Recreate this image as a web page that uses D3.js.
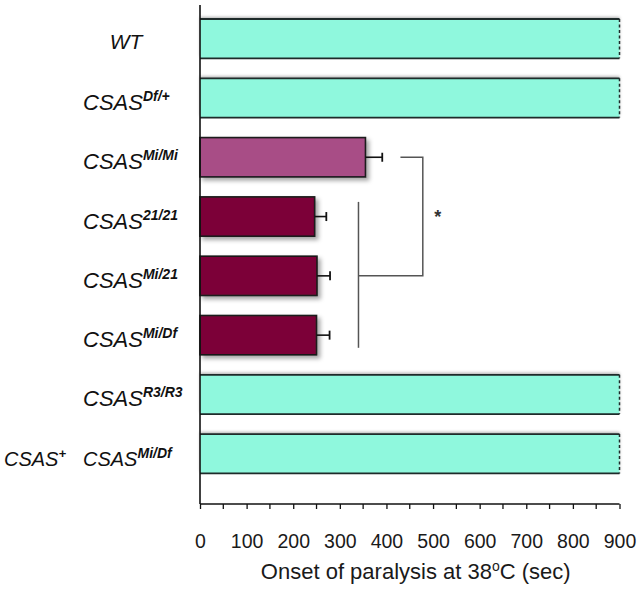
<!DOCTYPE html>
<html><head><meta charset="utf-8">
<script src="https://cdn.jsdelivr.net/npm/d3@7"></script>
<style>body{margin:0;background:#fff}svg{display:block}</style>
</head><body>
<svg id="c" width="640" height="592"></svg>
<script>
const genotypes = ["WT","CSAS Df/+","CSAS Mi/Mi","CSAS 21/21","CSAS Mi/21","CSAS Mi/Df","CSAS R3/R3","CSAS+ CSAS Mi/Df"];
const baseText = ["WT","CSAS","CSAS","CSAS","CSAS","CSAS","CSAS","CSAS"];
const supText  = ["","Df/+","Mi/Mi","21/21","Mi/21","Mi/Df","R3/R3","Mi/Df"];
const onset = [900,900,355,246,251,250,900,900];
const errors = [0,0,36,25,28,28,0,0];
const groups = ["full","full","mid","low","low","low","full","full"];
const xTicks = [0,100,200,300,400,500,600,700,800,900];
const minorTicks = [50,150,250,350,450,550,650,750,850];
const xTitle = ["Onset of paralysis at 38","o","C (sec)"];
// significance bracket (values in sec)
const bracket = {groupX: 340, joinX: 478, topStartX: 430, star: "*"};

const colors = {full:"#8ff8dd", mid:"#a84d86", low:"#7b0037"};
const FONT = "Liberation Sans, Arial, sans-serif";
const svg = d3.select("#c");
const x = d3.scaleLinear().domain([0,900]).range([200,619.5]);
const y = d3.scaleBand().domain(genotypes).range([9,483.4]).paddingInner(0.337).paddingOuter(0.1686);

const defs = svg.append("defs");
defs.append("filter").attr("id","sh").attr("x","-10%").attr("y","-30%").attr("width","130%").attr("height","170%")
  .append("feDropShadow").attr("dx",3).attr("dy",3).attr("stdDeviation",2).attr("flood-color","#000").attr("flood-opacity",0.35);
defs.append("filter").attr("id","shTop").attr("x","-10%").attr("y","-40%").attr("width","130%").attr("height","170%")
  .append("feDropShadow").attr("dx",0).attr("dy",-2).attr("stdDeviation",1.5).attr("flood-color","#000").attr("flood-opacity",0.3);

const data = genotypes.map((g,i)=>({g, v:onset[i], e:errors[i], grp:groups[i], base:baseText[i], sup:supText[i], i}));
const bw = y.bandwidth();

// bars
const bars = svg.append("g");
data.forEach(d=>{
  const y0 = y(d.g);
  if (d.grp === "full") {
    const gg = bars.append("g");
    gg.append("rect").attr("x",x(0)).attr("y",y0).attr("width",x(d.v)-x(0)).attr("height",bw)
      .attr("fill",colors.full).attr("filter","url(#shTop)");
    gg.append("line").attr("x1",x(0)).attr("x2",x(d.v)).attr("y1",y0).attr("y2",y0).attr("stroke","#1e2b2a").attr("stroke-width",1.8);
    gg.append("line").attr("x1",x(0)).attr("x2",x(d.v)).attr("y1",y0+bw).attr("y2",y0+bw).attr("stroke","#1e2b2a").attr("stroke-width",1.8);
    gg.append("line").attr("x1",x(d.v)).attr("x2",x(d.v)).attr("y1",y0).attr("y2",y0+bw).attr("stroke","#1e2b2a").attr("stroke-width",1.5).attr("stroke-dasharray","3,2.5");
  } else {
    bars.append("rect").attr("x",x(0)).attr("y",y0).attr("width",x(d.v)-x(0)).attr("height",bw)
      .attr("fill",colors[d.grp]).attr("stroke","#1a1a1a").attr("stroke-width",1.6).attr("filter","url(#sh)");
    const cy = y0 + bw/2;
    bars.append("line").attr("x1",x(d.v)).attr("x2",x(d.v+d.e)).attr("y1",cy).attr("y2",cy).attr("stroke","#111").attr("stroke-width",1.6);
    bars.append("line").attr("x1",x(d.v+d.e)).attr("x2",x(d.v+d.e)).attr("y1",cy-4.5).attr("y2",cy+4.5).attr("stroke","#111").attr("stroke-width",1.8);
  }
});

// axes
const axisY = 504;
svg.append("line").attr("x1",x(0)).attr("x2",x(0)).attr("y1",5).attr("y2",axisY).attr("stroke","#111").attr("stroke-width",1.6);
const xa = svg.append("g").attr("transform",`translate(0,${axisY})`)
  .call(d3.axisBottom(x).tickValues(xTicks).tickSize(5).tickPadding(25).tickFormat(d3.format("d")));
xa.select(".domain").attr("stroke","#111").attr("stroke-width",1.6).attr("d",`M${x(0)},0H${x(900)}`);
xa.selectAll(".tick line").attr("stroke","#111").attr("stroke-width",1.3);
xa.selectAll(".tick text").attr("font-family",FONT).attr("font-size",19.5).attr("fill","#1a1a1a");
xa.selectAll(".minor").data(minorTicks).enter().append("line").attr("class","minor")
  .attr("x1",d=>x(d)).attr("x2",d=>x(d)).attr("y1",0).attr("y2",5).attr("stroke","#111").attr("stroke-width",1.3);

// axis title
const t = svg.append("text").attr("x",(x(0)+x(900))/2+6).attr("y",579).attr("text-anchor","middle")
  .attr("font-family",FONT).attr("font-size",22).attr("fill","#1a1a1a");
t.append("tspan").text(xTitle[0]);
t.append("tspan").attr("font-size",14).attr("dy",-8).text(xTitle[1]);
t.append("tspan").attr("dy",8).text(xTitle[2]);

// labels
const lab = svg.append("g").attr("font-family",FONT).attr("font-style","italic").attr("fill","#111");
data.forEach(d=>{
  const cy = y(d.g) + bw/2;
  let tx;
  if (d.i === 0) {
    tx = lab.append("text").attr("x",126).attr("y",cy+10).attr("text-anchor","middle");
    tx.append("tspan").attr("font-size",21).text(d.base);
    return;
  }
  if (d.i === genotypes.length-1) {
    tx = lab.append("text").attr("x",4).attr("y",cy+12.5);
    tx.append("tspan").attr("font-size",20).text("CSAS");
    tx.append("tspan").attr("font-size",13).attr("font-weight","bold").attr("dy",-8).text("+");
    tx.append("tspan").attr("font-size",20).attr("x",83).attr("dy",8).text("CSAS");
    tx.append("tspan").attr("font-size",14).attr("font-weight","bold").attr("dy",-8.5).text(d.sup);
    return;
  }
  tx = lab.append("text").attr("x",83).attr("y",cy+12).attr("text-anchor","start");
  tx.append("tspan").attr("font-size",22).text(d.base);
  tx.append("tspan").attr("font-size",14).attr("font-weight","bold").attr("dy",-9).text(d.sup);
});

// significance bracket
const cyOf = g => y(g) + bw/2;
const br = svg.append("g").attr("stroke","#555").attr("stroke-width",1.5).attr("fill","none");
br.append("line").attr("x1",x(bracket.groupX)).attr("x2",x(bracket.groupX)).attr("y1",y(genotypes[3])+5).attr("y2",y(genotypes[5])+bw-7);
br.append("path").attr("d",`M${x(bracket.groupX)},${cyOf(genotypes[4])}H${x(bracket.joinX)}V${cyOf(genotypes[2])}H${x(bracket.topStartX)}`);
svg.append("text").attr("x",x(bracket.joinX)+15).attr("y",cyOf(genotypes[3])+2).attr("text-anchor","middle").attr("dominant-baseline","middle")
  .attr("font-family",FONT).attr("font-size",18).attr("font-weight","bold").attr("fill","#333").text(bracket.star);
</script>
</body></html>
